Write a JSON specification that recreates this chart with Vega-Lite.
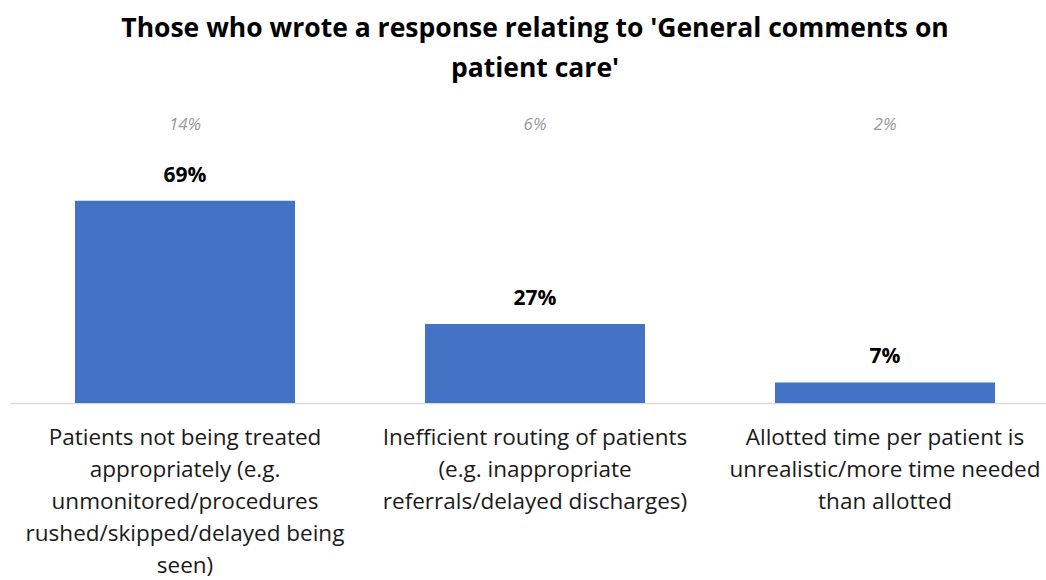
{
  "$schema": "https://vega.github.io/schema/vega-lite/v6.json",
  "autosize": "none",
  "width": 1050,
  "height": 293,
  "padding": {"left": 10, "top": 110, "right": 0, "bottom": 177},
  "background": "white",
  "title": {
    "text": ["Those who wrote a response relating to 'General comments on", "patient care'"],
    "font": "Open Sans",
    "fontSize": 26.5,
    "fontWeight": "bold",
    "color": "#000000",
    "lineHeight": 40,
    "anchor": "middle",
    "frame": "group",
    "offset": 28
  },
  "config": {"view": {"stroke": null}},
  "data": {
    "values": [
      {"category": "Patients not being treated|appropriately (e.g.|unmonitored/procedures|rushed/skipped/delayed being|seen)", "order": 1, "value": 69, "share": "14%", "label": "69%"},
      {"category": "Inefficient routing of patients|(e.g. inappropriate|referrals/delayed discharges)", "order": 2, "value": 27, "share": "6%", "label": "27%"},
      {"category": "Allotted time per patient is|unrealistic/more time needed|than allotted", "order": 3, "value": 7, "share": "2%", "label": "7%"}
    ]
  },
  "encoding": {
    "x": {
      "field": "category",
      "type": "nominal",
      "sort": {"field": "order"},
      "scale": {"paddingInner": 0.3714, "paddingOuter": 0.1857},
      "axis": {
        "title": null,
        "labelAngle": 0,
        "labelExpr": "split(datum.value, '|')",
        "labelFont": "Open Sans",
        "labelFontSize": 22.5,
        "labelColor": "#1a1a1a",
        "labelLineHeight": 32,
        "labelPadding": 23,
        "labelBaseline": "top",
        "ticks": false,
        "domainColor": "#d9d9d9",
        "domainWidth": 1.5,
        "labelLimit": 400
      }
    }
  },
  "layer": [
    {
      "mark": {"type": "bar", "color": "#4472c4"},
      "encoding": {
        "y": {"field": "value", "type": "quantitative", "scale": {"domain": [0, 100]}, "axis": null}
      }
    },
    {
      "mark": {"type": "text", "font": "Open Sans", "fontSize": 21, "fontWeight": "bold", "color": "#000000", "dy": -25},
      "encoding": {
        "y": {"field": "value", "type": "quantitative"},
        "text": {"field": "label"}
      }
    },
    {
      "mark": {"type": "text", "font": "Open Sans", "fontSize": 17, "fontStyle": "italic", "color": "#999999"},
      "encoding": {
        "y": {"datum": 95},
        "text": {"field": "share"}
      }
    }
  ]
}
